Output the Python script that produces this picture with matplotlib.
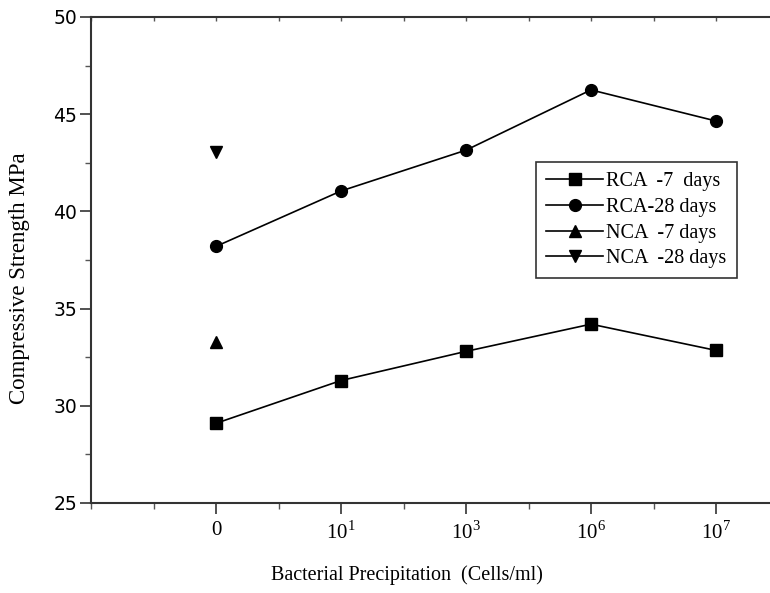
import matplotlib.pyplot as plt
from matplotlib.ticker import MultipleLocator

x_labels = ['0', r'$10^1$', r'$10^3$', r'$10^6$', r'$10^7$']
x_pos = [1, 2, 3, 4, 5]
rca_7 = [29.1, 31.3, 32.8, 34.2, 32.85]
rca_28 = [38.2, 41.05, 43.15, 46.25, 44.65]
nca_7 = [33.3]
nca_28 = [43.05]

serif = ['Liberation Serif', 'DejaVu Serif']
plt.rcParams['mathtext.fontset'] = 'custom'
plt.rcParams['mathtext.rm'] = 'Liberation Serif'

fig = plt.figure(figsize=(7.7, 5.93), dpi=100)
ax = fig.add_axes([91 / 770, 90 / 593, 690 / 770, 486 / 593])

ax.plot(x_pos, rca_7, color='black', lw=1.2, marker='s', ms=8, label='RCA  -7  days')
ax.plot(x_pos, rca_28, color='black', lw=1.2, marker='o', ms=8.5, label='RCA-28 days')
ax.plot(x_pos[:1], nca_7, color='black', lw=1.2, marker='^', ms=9, label='NCA  -7 days')
ax.plot(x_pos[:1], nca_28, color='black', lw=1.2, marker='v', ms=9, label='NCA  -28 days')

ax.set_xlim(0, 690 / 125)
ax.set_ylim(25, 50)
ax.set_xticks(x_pos)
ax.set_xticklabels(x_labels, fontfamily=serif, fontsize=15)
ax.xaxis.set_minor_locator(MultipleLocator(0.5))
ax.yaxis.set_major_locator(MultipleLocator(5))
ax.yaxis.set_minor_locator(MultipleLocator(2.5))
for lab in ax.get_yticklabels():
    lab.set_fontfamily('DejaVu Sans')
    lab.set_fontsize(13.5)

ax.tick_params(axis='both', which='major', direction='out', length=8, width=1.2, color='#333333')
ax.tick_params(axis='both', which='minor', direction='out', length=4, width=1, color='#555555')
ax.tick_params(axis='x', pad=5)
ax.tick_params(axis='y', pad=2)
ax.spines['right'].set_visible(False)
for s in ['left', 'bottom', 'top']:
    ax.spines[s].set_linewidth(1.5)
    ax.spines[s].set_color('#333333')

top = ax.secondary_xaxis('top')
top.set_xticks(x_pos)
top.set_xticklabels([])
top.xaxis.set_minor_locator(MultipleLocator(0.5))
top.tick_params(which='both', direction='in', length=3, width=1, color='#555555')
top.spines['top'].set_visible(False)

ax.set_xlabel('Bacterial Precipitation  (Cells/ml)', fontfamily=serif, fontsize=14.5)
ax.xaxis.set_label_coords(0.458, -0.128)
ax.set_ylabel('Compressive Strength MPa', fontfamily=serif, fontsize=16.5)
ax.yaxis.set_label_coords(-0.088, 0.463)

leg = ax.legend(loc='upper left', bbox_to_anchor=(445 / 690, 1 - 145 / 486), prop={'family': serif, 'size': 14.5},
                frameon=True, fancybox=False, edgecolor='black', handlelength=2.85, handletextpad=0.15,
                borderpad=0.5, labelspacing=0.33, borderaxespad=0)
leg.get_frame().set_linewidth(1.2)

fig.savefig('out.png', dpi=100)
